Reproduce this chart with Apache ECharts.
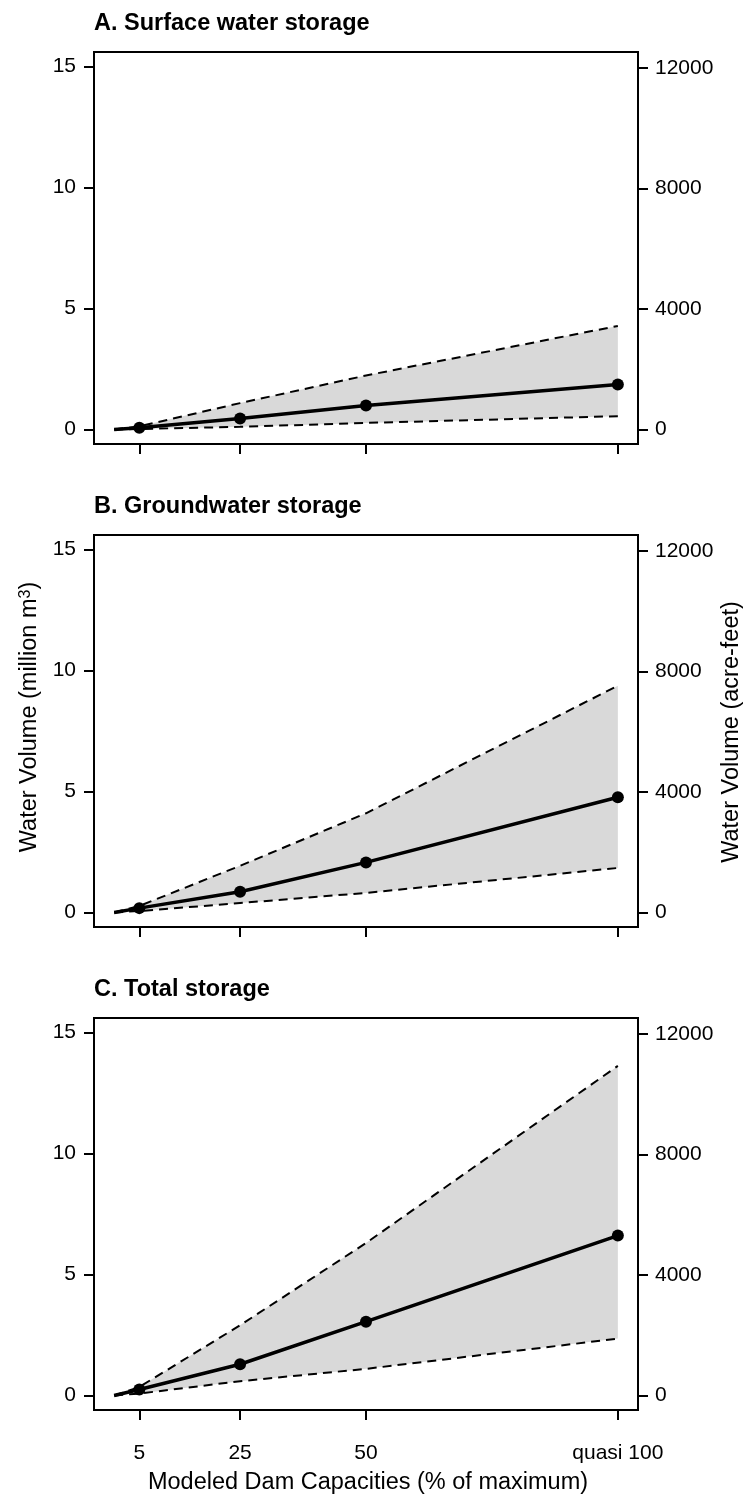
<!DOCTYPE html>
<html>
<head>
<meta charset="utf-8">
<title>Water storage vs dam capacity</title>
<script src="https://cdn.jsdelivr.net/npm/echarts@6.0.0/dist/echarts.min.js"></script>
<style>
  html, body { margin: 0; padding: 0; background: #fff; }
  #chart { width: 745px; height: 1498px; }
</style>
</head>
<body>
<div id="chart"></div>
<script>
// modeled dam capacity (% of maximum), line starts at the origin
const capacity = [0, 5, 25, 50, 100]

// A. surface water storage (million m3)
const surfaceMean = [0, 0.07, 0.45, 0.99, 1.86]
const surfaceUpper = [0, 0.13, 1.09, 2.23, 4.28]
const surfaceLower = [0, 0.02, 0.11, 0.27, 0.55]

// B. groundwater storage (million m3)
const groundMean = [0, 0.18, 0.86, 2.07, 4.76]
const groundUpper = [0, 0.27, 1.93, 4.10, 9.37]
const groundLower = [0, 0.06, 0.39, 0.81, 1.84]

// C. total storage (million m3)
const totalMean = [0, 0.25, 1.29, 3.05, 6.61]
const totalUpper = [0, 0.35, 2.9, 6.3, 13.62]
const totalLower = [0, 0.08, 0.59, 1.10, 2.35]

const panelTitles = ['A. Surface water storage', 'B. Groundwater storage', 'C. Total storage']

const xTickValues = [5, 25, 50, 100]
const xTickLabels = ['5', '25', '50', 'quasi 100']
const leftTicks = [0, 5, 10, 15]
const rightTicks = [0, 4000, 8000, 12000]

// 1 million m3 in acre-feet, as used by the right-hand scale
const AF_PER_MM3 = 803

const FONT = '"Liberation Sans", Arial, sans-serif'
const panels = [
  { mean: surfaceMean, upper: surfaceUpper, lower: surfaceLower },
  { mean: groundMean, upper: groundUpper, lower: groundLower },
  { mean: totalMean, upper: totalUpper, lower: totalLower }
]
const gridTops = [52, 535, 1018]
const gridHeight = 392
const yMin = -0.6
const yMax = 15.6

const grids = []
const xAxes = []
const yAxes = []
const series = []
const graphics = []

const tickStyle = { color: '#000', width: 2 }

panels.forEach(function(p, i) {
  grids.push({
    left: 94,
    right: 107,
    top: gridTops[i],
    height: gridHeight,
    show: true,
    borderColor: '#000',
    borderWidth: 2,
    backgroundColor: 'transparent'
  })

  xAxes.push({
    type: 'value',
    gridIndex: i,
    position: 'bottom',
    min: -4,
    max: 104,
    axisLine: { show: false, onZero: false },
    splitLine: { show: false },
    axisTick: { show: true, inside: false, customValues: xTickValues, length: 10, lineStyle: tickStyle },
    axisLabel: {
      show: i === 2,
      customValues: xTickValues,
      margin: 33,
      fontSize: 21,
      fontFamily: FONT,
      color: '#000',
      formatter: function(v) {
        return xTickLabels[xTickValues.indexOf(v)]
      }
    }
  })

  yAxes.push({
    type: 'value',
    gridIndex: i,
    position: 'left',
    min: yMin,
    max: yMax,
    axisLine: { show: false, onZero: false },
    splitLine: { show: false },
    axisTick: { show: true, inside: false, customValues: leftTicks, length: 10, lineStyle: tickStyle },
    axisLabel: {
      customValues: leftTicks,
      margin: 18,
      fontSize: 21,
      fontFamily: FONT,
      color: '#000',
      formatter: function(v) { return String(v) }
    }
  })
  yAxes.push({
    type: 'value',
    gridIndex: i,
    position: 'right',
    min: yMin * AF_PER_MM3,
    max: yMax * AF_PER_MM3,
    axisLine: { show: false, onZero: false },
    splitLine: { show: false },
    axisTick: { show: true, inside: false, customValues: rightTicks, length: 10, lineStyle: tickStyle },
    axisLabel: {
      customValues: rightTicks,
      margin: 17,
      fontSize: 21,
      fontFamily: FONT,
      color: '#000',
      formatter: function(v) { return String(v) }
    }
  })

  // grey band between lower and upper bounds (from 5 % onwards)
  const bandData = []
  for (let k = 1; k < capacity.length; k++) {
    bandData.push([capacity[k], p.lower[k], p.upper[k]])
  }
  series.push({
    type: 'custom',
    xAxisIndex: i,
    yAxisIndex: 2 * i,
    silent: true,
    z: 1,
    encode: { x: 0, y: [1, 2] },
    data: bandData,
    renderItem: function(params, api) {
      if (params.dataIndex !== 0) return null
      const pts = []
      bandData.forEach(function(d) { pts.push(api.coord([d[0], d[2]])) })
      for (let k = bandData.length - 1; k >= 0; k--) {
        pts.push(api.coord([bandData[k][0], bandData[k][1]]))
      }
      return { type: 'polygon', shape: { points: pts }, style: { fill: '#d9d9d9' } }
    }
  })

  ;[p.upper, p.lower].forEach(function(arr) {
    series.push({
      type: 'line',
      xAxisIndex: i,
      yAxisIndex: 2 * i,
      silent: true,
      z: 2,
      symbol: 'none',
      data: capacity.map(function(x, k) { return [x, arr[k]] }),
      lineStyle: { color: '#000', width: 2, type: [9, 6] }
    })
  })

  series.push({
    type: 'line',
    xAxisIndex: i,
    yAxisIndex: 2 * i,
    silent: true,
    z: 3,
    symbol: 'circle',
    showSymbol: true,
    data: capacity.map(function(x, k) {
      return { value: [x, p.mean[k]], symbolSize: k === 0 ? 0 : 12 }
    }),
    itemStyle: { color: '#000' },
    lineStyle: { color: '#000', width: 3.5 }
  })

  graphics.push({
    type: 'text',
    x: 94,
    y: 24 + i * 482.7,
    style: {
      text: panelTitles[i],
      font: 'bold 23.5px ' + FONT,
      fill: '#000',
      verticalAlign: 'middle'
    }
  })
})

graphics.push({
  type: 'text',
  x: 30,
  y: 717,
  rotation: Math.PI / 2,
  style: {
    text: '{n|Water Volume (million m}{s|3}{n|)}',
    align: 'center',
    verticalAlign: 'middle',
    fill: '#000',
    rich: {
      n: { fontSize: 23.5, fontFamily: FONT, fill: '#000' },
      s: { fontSize: 16, fontFamily: FONT, fill: '#000', verticalAlign: 'top' }
    }
  }
})
graphics.push({
  type: 'text',
  x: 732,
  y: 732,
  rotation: Math.PI / 2,
  style: {
    text: 'Water Volume (acre-feet)',
    font: '23.5px ' + FONT,
    fill: '#000',
    align: 'center',
    verticalAlign: 'middle'
  }
})
graphics.push({
  type: 'text',
  x: 368,
  y: 1483,
  style: {
    text: 'Modeled Dam Capacities (% of maximum)',
    font: '23.5px ' + FONT,
    fill: '#000',
    align: 'center',
    verticalAlign: 'middle'
  }
})

const chart = echarts.init(document.getElementById('chart'), null, { renderer: 'canvas' })
chart.setOption({
  animation: false,
  backgroundColor: '#fff',
  grid: grids,
  xAxis: xAxes,
  yAxis: yAxes,
  series: series,
  graphic: graphics
})
</script>
</body>
</html>
